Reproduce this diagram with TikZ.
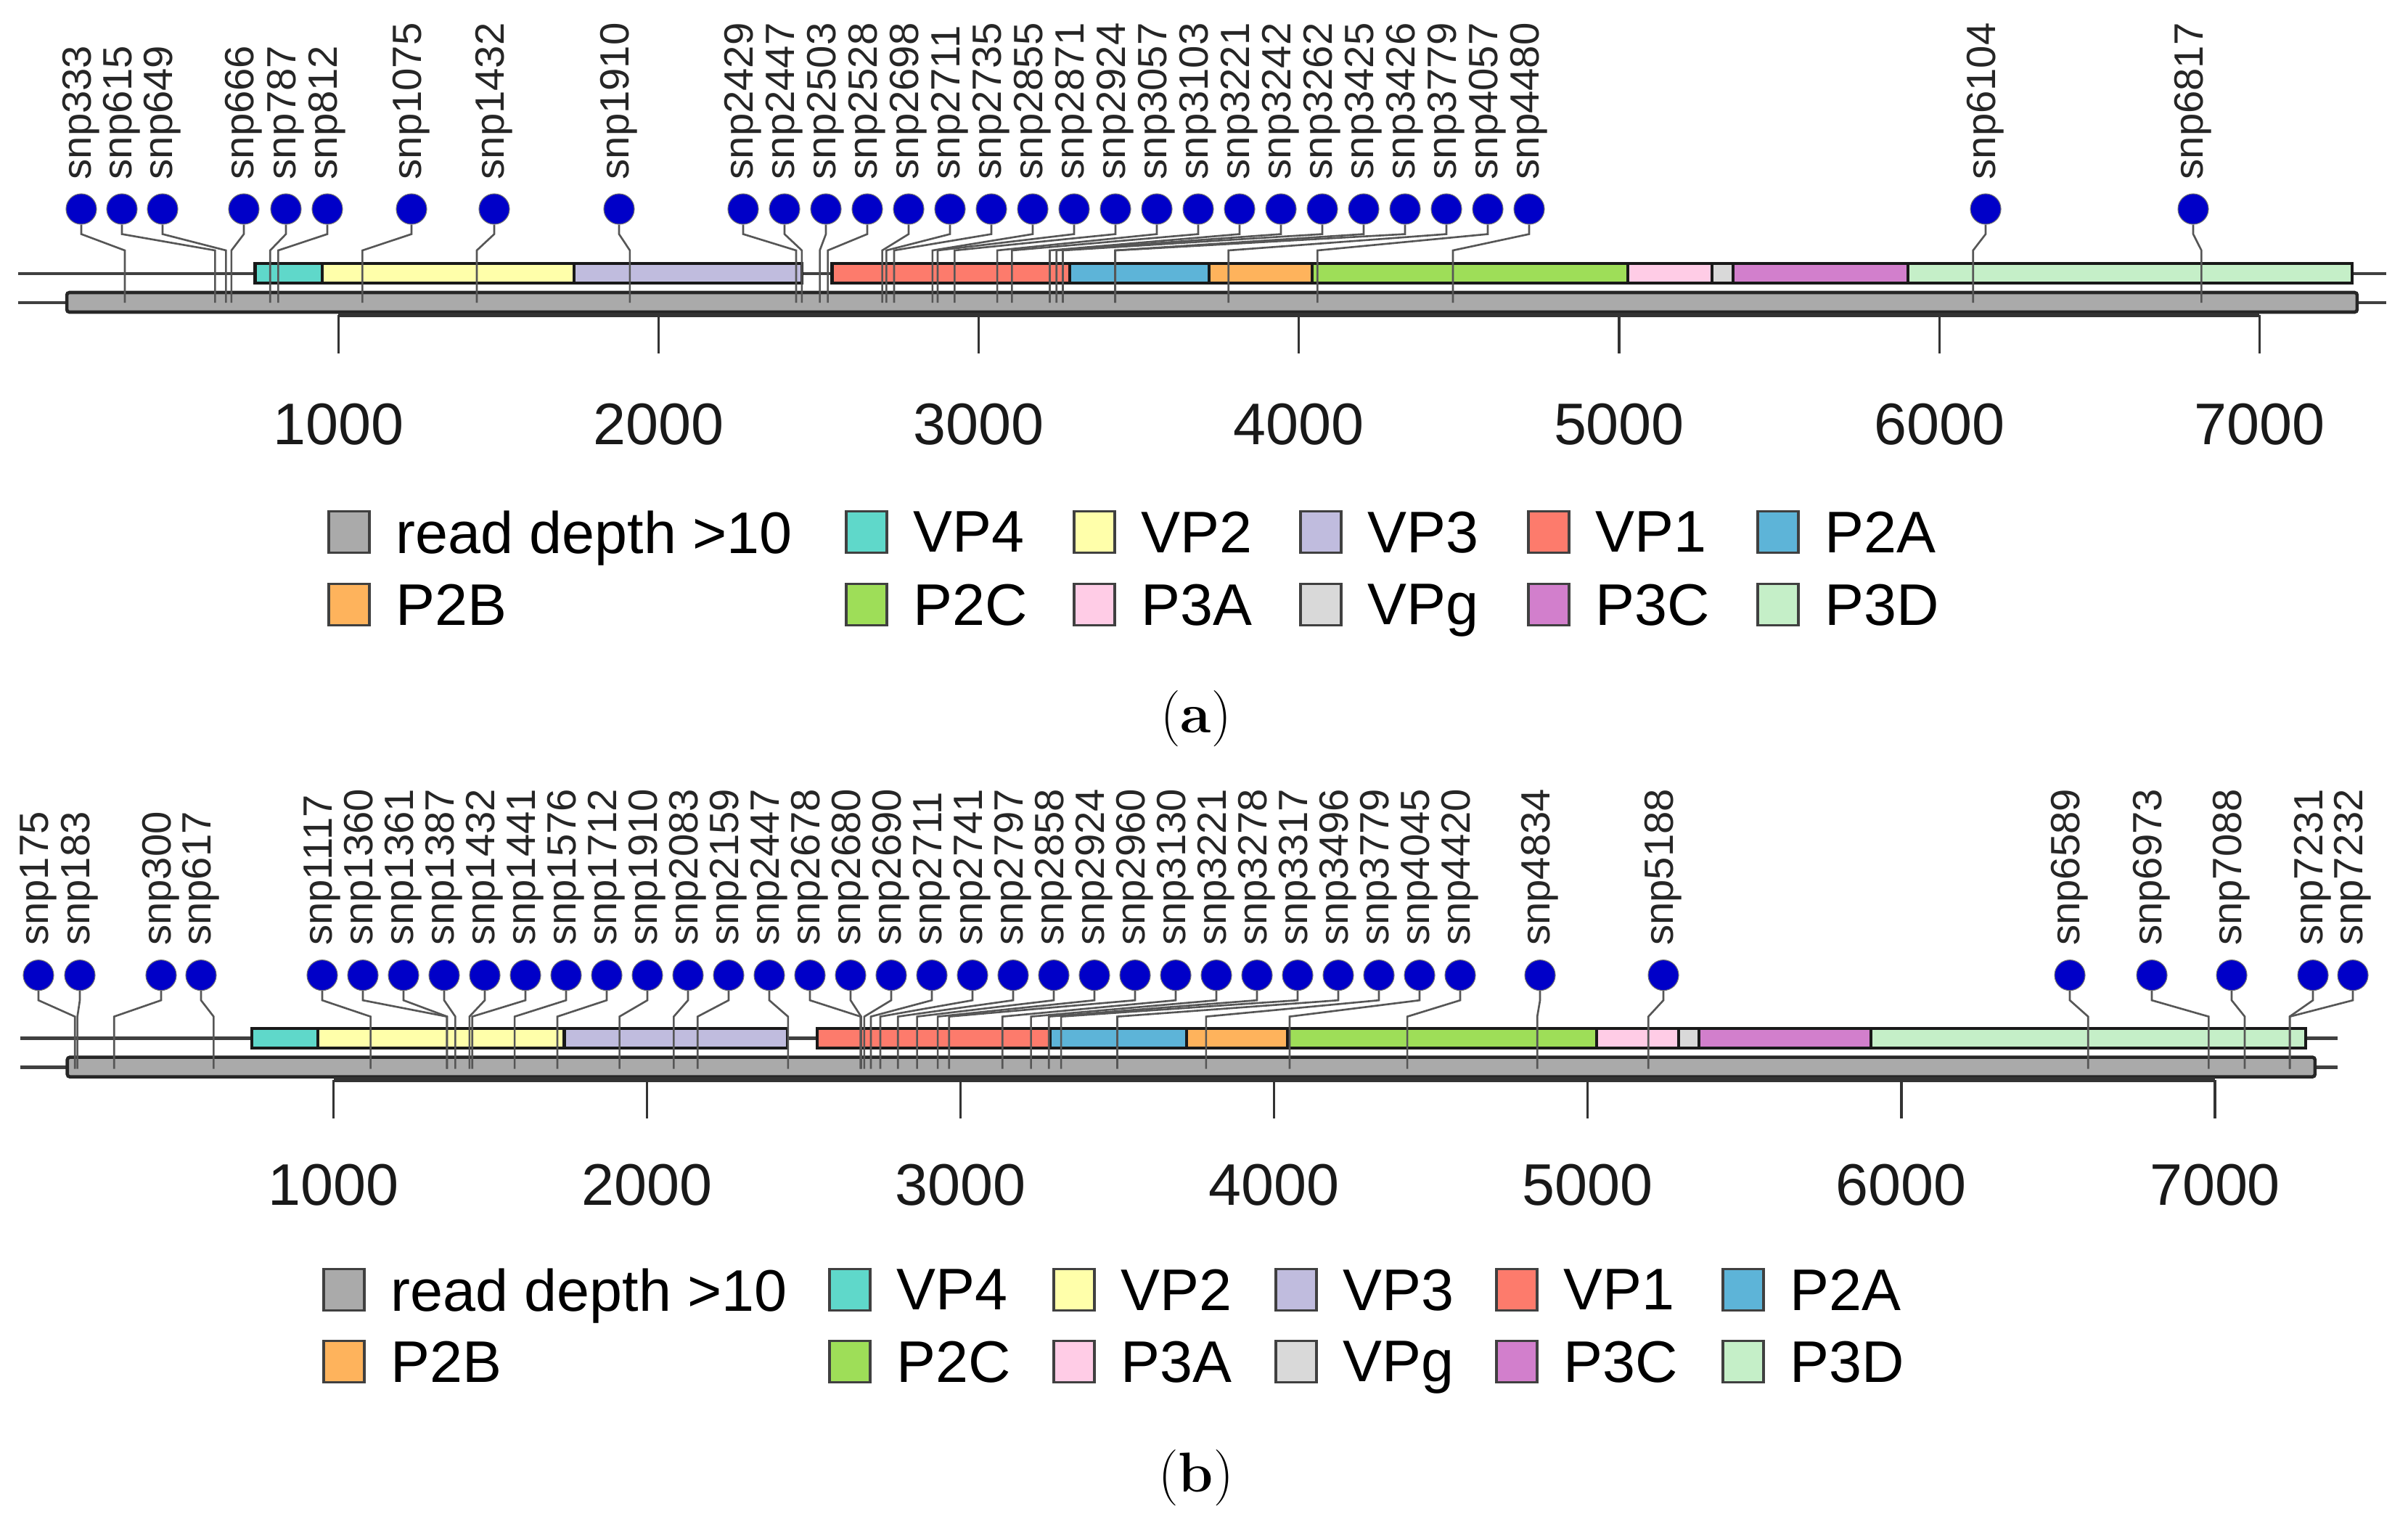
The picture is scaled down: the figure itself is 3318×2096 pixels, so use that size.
\documentclass[tikz,border=0pt]{standalone}
\usepackage{fontspec}
\setsansfont{Liberation Sans}
\usepackage{tikz}
\usetikzlibrary{positioning}

\definecolor{snpblue}{HTML}{0000C8}
\definecolor{stemgray}{HTML}{565656}
\definecolor{depth}{HTML}{AAAAAA}
\definecolor{vpfour}{HTML}{5FD8CA}
\definecolor{vptwo}{HTML}{FFFFAA}
\definecolor{vpthree}{HTML}{C0BCDE}
\definecolor{vpone}{HTML}{FD7B6C}
\definecolor{ptwoa}{HTML}{5DB4D8}
\definecolor{ptwob}{HTML}{FEB35C}
\definecolor{ptwoc}{HTML}{9EDE58}
\definecolor{pthreea}{HTML}{FFCCE6}
\definecolor{vpg}{HTML}{D9D9D9}
\definecolor{pthreec}{HTML}{D27FCC}
\definecolor{pthreed}{HTML}{C5EFC8}

\begin{document}
\begin{tikzpicture}[x=0.01cm, y=-0.01cm,
    snphead/.style={circle, fill=snpblue, draw=black!55, line width=0.3pt, inner sep=0pt, minimum size=0.42cm},
    snplabel/.style={rotate=90, anchor=west, inner sep=0pt, text=black!85, font=\sffamily\fontsize{16}{16}\selectfont},
    stem/.style={draw=stemgray, line width=0.75pt},
    backbone/.style={draw=black!75, line width=1.3pt},
    depthbar/.style={fill=depth, draw=black!85, line width=1.3pt, rounded corners=1pt},
    genebox/.style={draw=black!90, line width=1.2pt},
    axisline/.style={draw=black!80, line width=1.8pt},
    tickline/.style={draw=black!80, line width=0.9pt},
    ticklab/.style={font=\sffamily\fontsize{23}{23}\selectfont, text=black!90},
    legkey/.style={draw=black!75, line width=1pt, minimum width=0.56cm, minimum height=0.57cm, inner sep=0pt},
    legtext/.style={font=\sffamily\fontsize{23}{23}\selectfont, inner sep=0pt, text depth=0pt},
    figlabel/.style={font=\fontsize{22}{26}\selectfont}]
  \useasboundingbox (0,0) rectangle (3318,2096);

  % (a)
  \begin{scope}[xshift=0.25cm, x=0.004413cm]
    \draw[backbone] (0,377)--(7395,377); %genome
    \draw[backbone] (0,417)--(7395,417);
    \draw[depthbar] (152,403) rectangle (7305,430); %read depth
    \foreach \st/\en/\col in {740/950/vpfour, 950/1736/vptwo, 1736/2447/vpthree,
        2542/3284/vpone, 3284/3720/ptwoa, 3720/4042/ptwob, 4042/5028/ptwoc,
        5028/5290/pthreea, 5290/5355/vpg, 5355/5903/pthreec, 5903/7290/pthreed}
      \draw[genebox, fill=\col] (\st,363) rectangle (\en,390);
    \draw[axisline] (1000,434)--(7000,434); %axis
    \foreach \tk in {1000,2000,...,7000}{
      \draw[tickline] (\tk,434)--(\tk,487);
      \node[ticklab] (ta\tk) at (\tk,585) {\tk};
    }
  \end{scope}
  \foreach \n/\cx in {333/112, 615/168, 649/224, 666/336, 787/394, 812/451, 1075/567,
      1432/681, 1910/853, 2429/1024, 2447/1081, 2503/1138, 2528/1195, 2698/1252,
      2711/1309, 2735/1366, 2855/1423, 2871/1480, 2924/1537, 3057/1594, 3103/1651,
      3221/1708, 3242/1765, 3262/1822, 3425/1879, 3426/1936, 3779/1993, 4057/2050,
      4480/2107, 6104/2736, 6817/3022}{
    \pgfmathsetmacro\xr{25+0.4413*\n}
    \node[snphead] (a\n) at (\cx,288) {};
    \node[snplabel] (la\n) at (\cx,248) {snp\n};
    \coordinate (ra\n) at (\xr,417);
    \draw[stem] (a\n.south)--++(0,13)--(\xr,345)--(ra\n);
  }
  \foreach \col/\xx/\yy/\lab in {depth/481/733/read depth >10, vpfour/1194/733/VP4,
      vptwo/1508/733/VP2, vpthree/1820/733/VP3, vpone/2134/733/VP1, ptwoa/2450/733/P2A,
      ptwob/481/833/P2B, ptwoc/1194/833/P2C, pthreea/1508/833/P3A, vpg/1820/833/VPg,
      pthreec/2134/833/P3C, pthreed/2450/833/P3D}{
    \node[legkey, fill=\col] (ka\col) at (\xx,\yy) {};
    \node[legtext, right=0.34cm of ka\col] (na\col) {\lab};
  }
  \node[figlabel] (capa) at (1648,990) {(\textbf{a})};

  % (b)
  \begin{scope}[yshift=-10.53cm, xshift=0.275cm, x=0.004325cm]
    \draw[backbone] (0,377)--(7390,377);
    \draw[backbone] (0,417)--(7390,417);
    \draw[depthbar] (151,403) rectangle (7319,430);
    \foreach \st/\en/\col in {740/950/vpfour, 950/1736/vptwo, 1736/2447/vpthree,
        2542/3284/vpone, 3284/3720/ptwoa, 3720/4042/ptwob, 4042/5028/ptwoc,
        5028/5290/pthreea, 5290/5355/vpg, 5355/5903/pthreec, 5903/7290/pthreed}
      \draw[genebox, fill=\col] (\st,363) rectangle (\en,390);
    \draw[axisline] (1000,434)--(7000,434);
    \foreach \tk in {1000,2000,...,7000}{
      \draw[tickline] (\tk,434)--(\tk,487);
      \node[ticklab] (tb\tk) at (\tk,579) {\tk};
    }
  \end{scope}
  \begin{scope}[yshift=-10.55cm]
    \foreach \n/\cx in {175/53, 183/110, 300/222, 617/277, 1117/444, 1360/500, 1361/556,
        1387/612, 1432/668, 1441/724, 1576/780, 1712/836, 1910/892, 2083/948, 2159/1004,
        2447/1060, 2678/1116, 2680/1172, 2690/1228, 2711/1284, 2741/1340, 2797/1396,
        2858/1452, 2924/1508, 2960/1564, 3130/1620, 3221/1676, 3278/1732, 3317/1788,
        3496/1844, 3779/1900, 4045/1956, 4420/2012, 4834/2122, 5188/2292, 6589/2852,
        6973/2965, 7088/3075, 7231/3187, 7232/3242}{
      \pgfmathsetmacro\xr{27.5+0.4325*\n}
      \node[snphead] (b\n) at (\cx,288) {};
      \node[snplabel] (lb\n) at (\cx,248) {snp\n};
      \coordinate (rb\n) at (\xr,417);
      \draw[stem] (b\n.south)--++(0,13)--(\xr,345)--(rb\n);
    }
  \end{scope}
  \foreach \col/\xx/\yy/\lab in {depth/474/1777/read depth >10, vpfour/1171/1777/VP4,
      vptwo/1480/1777/VP2, vpthree/1786/1777/VP3, vpone/2090/1777/VP1, ptwoa/2402/1777/P2A,
      ptwob/474/1876/P2B, ptwoc/1171/1876/P2C, pthreea/1480/1876/P3A, vpg/1786/1876/VPg,
      pthreec/2090/1876/P3C, pthreed/2402/1876/P3D}{
    \node[legkey, fill=\col] (kb\col) at (\xx,\yy) {};
    \node[legtext, right=0.34cm of kb\col] (nb\col) {\lab};
  }
  \node[figlabel] (capb) at (1648,2036) {(\textbf{b})};
\end{tikzpicture}
\end{document}
